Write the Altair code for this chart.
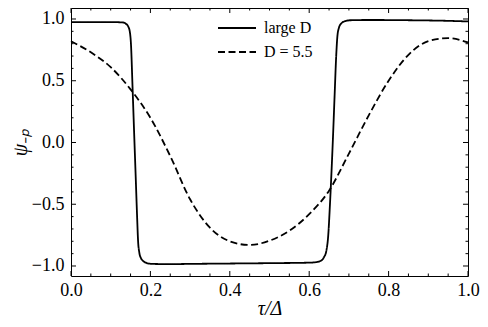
import altair as alt
import pandas as pd

# ---- data ----
series_names = ["large D", "D = 5.5"]

tau_large = [0.0, 0.05, 0.10, 0.13, 0.138, 0.144, 0.148, 0.151, 0.155, 0.159, 0.163,
             0.1665, 0.169, 0.172, 0.176, 0.182, 0.19, 0.205, 0.25, 0.3, 0.4, 0.5,
             0.6, 0.615, 0.628, 0.637, 0.643, 0.648, 0.652, 0.656, 0.660, 0.664,
             0.668, 0.671, 0.675, 0.681, 0.69, 0.705, 0.75, 0.85, 0.95, 1.0]
psi_large = [0.975, 0.975, 0.975, 0.972, 0.962, 0.94, 0.90, 0.80, 0.45, 0.08, -0.28,
             -0.60, -0.80, -0.89, -0.935, -0.96, -0.975, -0.983, -0.985, -0.983, -0.98, -0.977,
             -0.973, -0.97, -0.96, -0.93, -0.88, -0.75, -0.52, -0.25, 0.05, 0.38,
             0.70, 0.86, 0.93, 0.965, 0.982, 0.99, 0.992, 0.99, 0.985, 0.98]

tau_d55 = [0.0, 0.05, 0.10, 0.15, 0.20, 0.25, 0.30, 0.35, 0.40, 0.45, 0.50,
           0.55, 0.60, 0.65, 0.70, 0.75, 0.80, 0.85, 0.90, 0.95, 1.0]
psi_d55 = [0.82, 0.73, 0.61, 0.43, 0.20, -0.11, -0.46, -0.69, -0.80, -0.83, -0.795,
           -0.715, -0.58, -0.39, -0.09, 0.22, 0.50, 0.71, 0.82, 0.845, 0.81]

x_major = [0.0, 0.2, 0.4, 0.6, 0.8, 1.0]
x_minor = [0.05, 0.1, 0.15, 0.25, 0.3, 0.35, 0.45, 0.5, 0.55, 0.65, 0.7, 0.75, 0.85, 0.9, 0.95]
y_major = [-1.0, -0.5, 0.0, 0.5, 1.0]
y_minor = [-0.9, -0.8, -0.7, -0.6, -0.4, -0.3, -0.2, -0.1, 0.1, 0.2, 0.3, 0.4, 0.6, 0.7, 0.8, 0.9]

x_title = "τ/Δ"
y_title = "ψ₋ₚ"

# ---- chart ----
W, H = 397, 268
FONT = "Liberation Serif"

df = pd.DataFrame({
    "tau": tau_large + tau_d55,
    "psi": psi_large + psi_d55,
    "series": [series_names[0]] * len(tau_large) + [series_names[1]] * len(tau_d55),
})

xs = alt.Scale(domain=[0, 1], nice=False, zero=False)
ys = alt.Scale(domain=[-1.081, 1.089], nice=False, zero=False)

x_axis = alt.Axis(values=x_major, format=".1f", title=x_title, labelFlush=False,
                  labelPadding=5, titleY=38, titleBaseline="alphabetic",
                  titleFontStyle="italic")
y_axis = alt.Axis(values=y_major, labelFlush=False,
                  labelExpr="replace(format(datum.value, '.1f'), '-', '\u2212')",
                  title=y_title, labelPadding=7, titleX=-51, titleY=134,
                  titleBaseline="middle", titleAlign="center", titleAngle=270,
                  titleFontStyle="italic")

lines = alt.Chart(df).mark_line(color="black", strokeWidth=1.8, interpolate="monotone").encode(
    x=alt.X("tau:Q", scale=xs, axis=x_axis),
    y=alt.Y("psi:Q", scale=ys, axis=y_axis),
    strokeDash=alt.StrokeDash(
        "series:N",
        scale=alt.Scale(domain=series_names, range=[[1, 0], [7, 3.5]]),
        legend=alt.Legend(orient="none", legendX=146, legendY=12, title=None,
                          symbolType="stroke", symbolSize=1444, symbolStrokeWidth=2,
                          symbolStrokeColor="black", labelFont=FONT, labelFontSize=16,
                          labelColor="black", labelOffset=7, clipHeight=16, rowPadding=8),
    ),
)


def tick_layers(vals, length, horizontal):
    base = alt.Chart(pd.DataFrame({"v": vals})).mark_rule(color="black", strokeWidth=1)
    if horizontal:
        x = alt.X("v:Q", scale=xs, axis=x_axis)
        return [
            base.encode(x=x, y=alt.value(H), y2=alt.value(H - length)),
            base.encode(x=x, y=alt.value(0), y2=alt.value(length)),
        ]
    y = alt.Y("v:Q", scale=ys, axis=y_axis)
    return [
        base.encode(y=y, x=alt.value(0), x2=alt.value(length)),
        base.encode(y=y, x=alt.value(W), x2=alt.value(W - length)),
    ]


ticks = (tick_layers(x_major, 5, True) + tick_layers(x_minor, 2.5, True)
         + tick_layers(y_major, 5, False) + tick_layers(y_minor, 2.5, False))

chart = alt.layer(lines, *ticks).properties(
    width=W, height=H,
    autosize=alt.AutoSizeParams(type="none"),
    padding={"left": 63, "top": 0, "right": 12, "bottom": 48},
).configure_view(stroke="black", strokeWidth=1).configure_axis(
    grid=False, ticks=False, domain=False,
    labelFont=FONT, labelFontSize=18, labelColor="black",
    titleFont=FONT, titleFontSize=20, titleFontWeight="normal", titleColor="black",
)

chart.save("out.html", embed_options={"renderer": "svg", "actions": False})
